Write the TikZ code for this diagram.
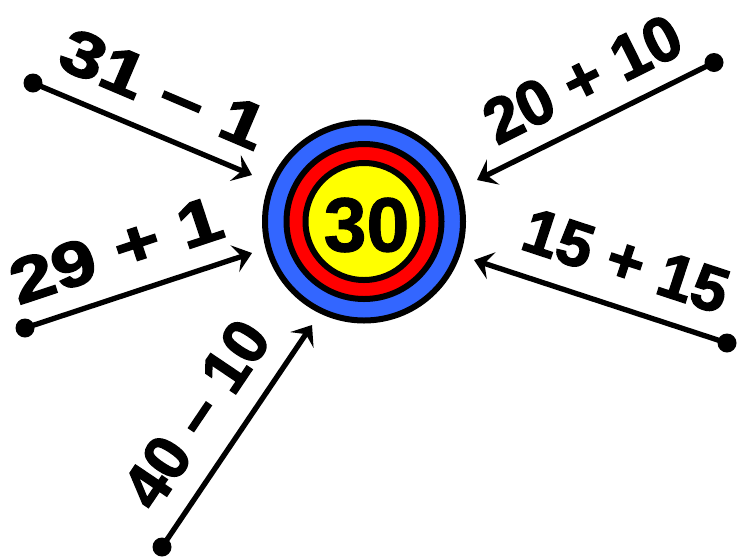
\documentclass[tikz,border=0pt]{standalone}
\usepackage{fontspec}
\setmainfont{Liberation Sans}[BoldFeatures={FakeBold=1.2}]
\newfontfamily\lblfont{Liberation Sans}[BoldFeatures={FakeBold=2.4}]
\usetikzlibrary{arrows.meta}
\definecolor{ringblue}{RGB}{51,102,255}
\definecolor{ringred}{RGB}{255,0,0}
\definecolor{ringyellow}{RGB}{255,255,0}
\tikzset{
  ring/.style={circle, draw=black, line width=6pt, inner sep=0pt},
  dotnode/.style={circle, fill=black, inner sep=0pt, minimum size=19pt},
  conn/.style={line width=5.3pt, -{Stealth[length=18pt,width=28pt,inset=7pt]}},
  lbl/.style={inner sep=0pt, font=\lblfont\fontsize{63}{63}\selectfont\bfseries}
}
\begin{document}
\begin{tikzpicture}[x=1pt,y=-1pt]
\useasboundingbox (0,0) rectangle (738,558);
% target
\node[ring, fill=ringblue, minimum size=198pt] (outer) at (364,221.5) {};
\node[ring, fill=ringred, minimum size=155pt] (mid) at (364,221.5) {};
\node[ring, fill=ringyellow, minimum size=117pt] (inner) at (364,221.5) {};
\node[inner sep=0pt, font=\fontsize{77}{77}\selectfont\bfseries] (val) at (366.5,225) {30};
% start dots
\node[dotnode] (d1) at (33,83) {};
\node[dotnode] (d2) at (714,62.5) {};
\node[dotnode] (d3) at (25,328) {};
\node[dotnode] (d4) at (727,343) {};
\node[dotnode] (d5) at (162,547) {};
% arrow tips
\coordinate (t1) at (252,175);
\coordinate (t2) at (477,180);
\coordinate (t3) at (252,253);
\coordinate (t4) at (474,260);
\coordinate (t5) at (312,325);
\draw[conn] (d1.center) -- (t1);
\draw[conn] (d2.center) -- (t2);
\draw[conn] (d3.center) -- (t3);
\draw[conn] (d4.center) -- (t4);
\draw[conn] (d5.center) -- (t5);
% labels
\node[lbl, rotate=-23] (l1) at (163.5,89) {\scalebox{1.24}[1]{31 – 1}};
\node[lbl, rotate=26.4] (l2) at (582.5,79) {20 + 10};
\node[lbl, rotate=18.3] (l3) at (116,250) {\scalebox{1.24}[1]{29 + 1}};
\node[lbl, rotate=-18.2] (l4) at (626,261) {15 + 15};
\node[lbl, rotate=56] (l5) at (196,414) {40 – 10};
\end{tikzpicture}
\end{document}
